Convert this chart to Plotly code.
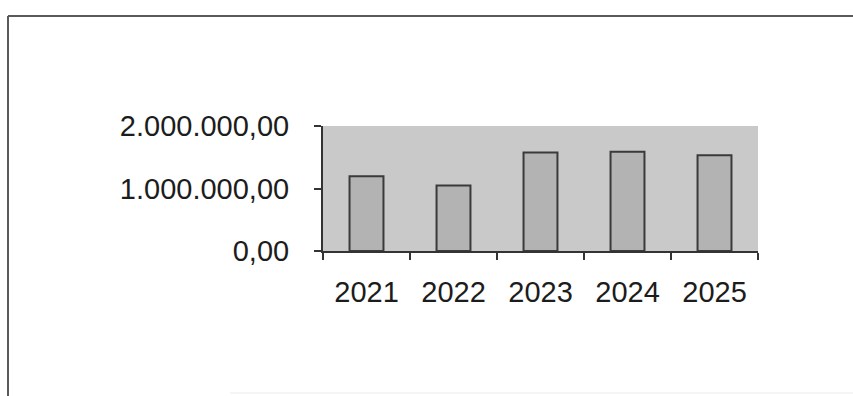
import plotly.graph_objects as go

years = ["2021", "2022", "2023", "2024", "2025"]
values = [1197000, 1047000, 1577000, 1587000, 1534000]
y_ticks = [0, 1000000, 2000000]
y_tick_labels = ["0,00", "1.000.000,00", "2.000.000,00"]

W, H = 853, 396
L, R, T, B = 323, 95, 126, 145

fig = go.Figure(
    go.Bar(
        x=years,
        y=values,
        marker=dict(color="#b3b3b3", line=dict(color="#3a3a3a", width=2)),
        width=0.39,
    )
)

pw = W - L - R
ph = H - T - B

def px_x(x):
    return (x - L) / pw

def px_y(y):
    return (H - B - y) / ph

frame_color = "#5a5a5a"
shapes = [
    dict(type="line", xref="paper", yref="paper", x0=px_x(8), x1=px_x(853), y0=px_y(16), y1=px_y(16),
         line=dict(color=frame_color, width=2)),
    dict(type="line", xref="paper", yref="paper", x0=px_x(8), x1=px_x(8), y0=px_y(16), y1=px_y(396),
         line=dict(color=frame_color, width=2)),
    dict(type="line", xref="paper", yref="paper", x0=px_x(230), x1=px_x(853), y0=px_y(393), y1=px_y(393),
         line=dict(color="#ececec", width=1)),
]

fig.update_layout(
    width=W,
    height=H,
    margin=dict(l=L, r=R, t=T, b=B, pad=0),
    paper_bgcolor="white",
    plot_bgcolor="#c9c9c9",
    showlegend=False,
    shapes=shapes,
    font=dict(family="Liberation Sans, Arial, sans-serif", size=29, color="#1c1c1c"),
    xaxis=dict(
        type="category",
        tickson="boundaries",
        ticks="outside",
        ticklen=7,
        tickwidth=1.5,
        tickcolor="#333333",
        showline=True,
        linecolor="#333333",
        linewidth=2,
        showgrid=False,
        ticklabelstandoff=14,
        tickfont=dict(size=29),
    ),
    yaxis=dict(
        range=[0, 2000000],
        tickvals=y_ticks,
        ticktext=y_tick_labels,
        ticks="outside",
        ticklen=7,
        tickwidth=1.5,
        tickcolor="#333333",
        showline=True,
        linecolor="#333333",
        linewidth=2,
        showgrid=False,
        zeroline=False,
        ticklabelstandoff=19,
        tickfont=dict(size=29),
    ),
)

fig.write_html("out.html")
